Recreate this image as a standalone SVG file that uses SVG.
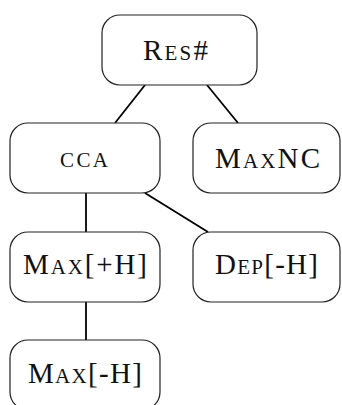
<svg xmlns="http://www.w3.org/2000/svg" width="342" height="405" viewBox="0 0 342 405">
<style>
.box{fill:#fff;stroke:#222;stroke-width:1.2}
.lbl{font-family:"Liberation Serif","Times New Roman",serif;font-size:29px;fill:#111;text-anchor:middle}
.sc{font-size:21px}
.edge{stroke:#000;stroke-width:1.8;fill:none}
</style>
<rect width="342" height="405" fill="#fff"/>
<g id="connectors">
<line class="edge" x1="145" y1="85" x2="115" y2="123"/>
<line class="edge" x1="207" y1="85" x2="238" y2="123"/>
<line class="edge" x1="86" y1="193" x2="86" y2="232"/>
<line class="edge" x1="145" y1="193" x2="208" y2="232"/>
<line class="edge" x1="86" y1="302" x2="86" y2="340"/>
</g>
<g id="res">
<rect class="box" x="102" y="15" width="155" height="70" rx="18"/>
<text class="lbl" x="175.5" y="60" textLength="65" lengthAdjust="spacing">R<tspan class="sc">ES</tspan>#</text>
</g>
<g id="cca">
<rect class="box" x="10" y="123" width="150" height="70" rx="18"/>
<text class="lbl sc" x="84" y="167" textLength="48" lengthAdjust="spacing">CCA</text>
</g>
<g id="maxnc">
<rect class="box" x="193" y="123" width="147" height="70" rx="18"/>
<text class="lbl" x="267.5" y="168" textLength="105" lengthAdjust="spacing">M<tspan class="sc">AX</tspan>NC</text>
</g>
<g id="maxplush">
<rect class="box" x="10" y="232" width="150" height="70" rx="18"/>
<text class="lbl" x="85" y="274" textLength="124" lengthAdjust="spacing">M<tspan class="sc">AX</tspan>[+H]</text>
</g>
<g id="depminush">
<rect class="box" x="193" y="232" width="147" height="70" rx="18"/>
<text class="lbl" x="266.5" y="274" textLength="103" lengthAdjust="spacing">D<tspan class="sc">EP</tspan>[-H]</text>
</g>
<g id="maxminush">
<rect class="box" x="10" y="340" width="150" height="70" rx="18"/>
<text class="lbl" x="85" y="383" textLength="114" lengthAdjust="spacing">M<tspan class="sc">AX</tspan>[-H]</text>
</g>
</svg>
